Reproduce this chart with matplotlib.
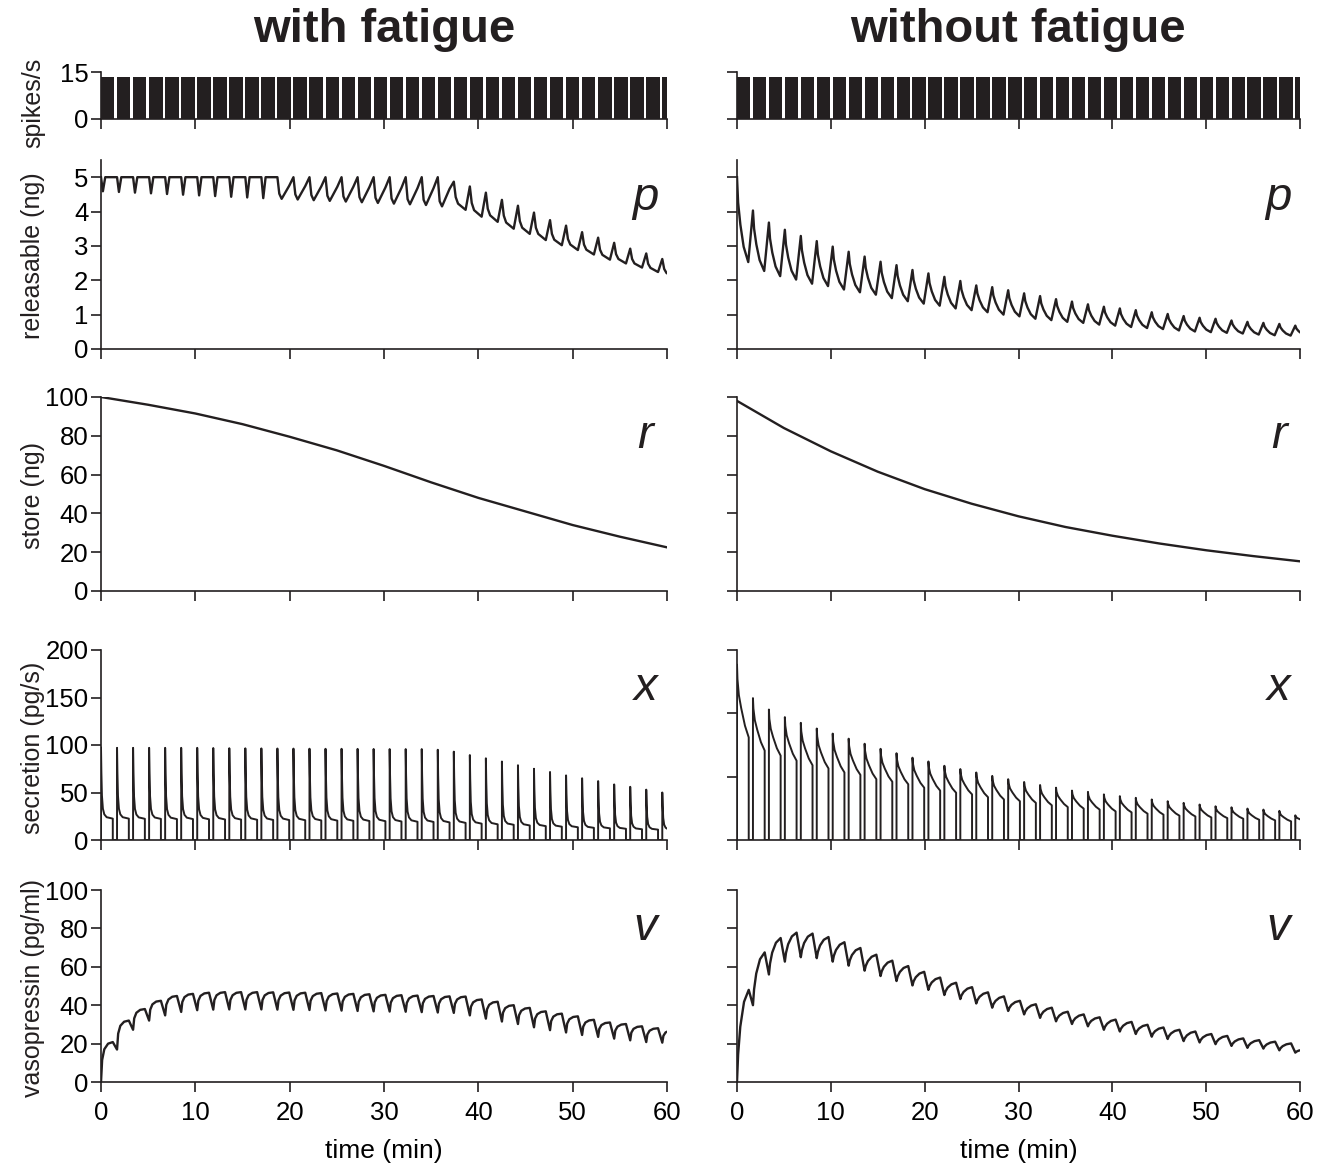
import numpy as np
import matplotlib.pyplot as plt

plt.rcParams['font.family'] = ['Liberation Sans', 'DejaVu Sans']

# ---- Data ----
n_bursts = 36
burst_period = 1.7      # min
burst_on = 1.25         # active part of a burst (curves)
bar_on = 1.42           # width of the spike-rate blocks
burst_start = np.arange(n_bursts) * burst_period

spike_rate_left = [13.4] * n_bursts
spike_rate_right = [13.4] * n_bursts

# releasable pool p, with fatigue: value at burst start, +0.2 min, +0.45 min, burst end
p_left_peak = [5.0, 5.0, 5.0, 5.0, 5.0, 5.0, 5.0, 5.0, 5.0, 5.0, 5.0, 5.0,
               5.0, 5.0, 5.0, 5.0, 5.0, 5.0, 5.0, 5.0, 5.0, 5.0, 4.87, 4.73,
               4.55, 4.34, 4.17, 3.97, 3.75, 3.59, 3.40, 3.24, 3.09, 2.92, 2.78, 2.62]
p_left_dip = [4.59, 4.57, 4.55, 4.53, 4.51, 4.49, 4.47, 4.45, 4.43, 4.41, 4.39, 4.52,
              4.50, 4.48, 4.46, 4.44, 4.42, 4.40, 4.38, 4.36, 4.34, 4.30, 4.42, 4.25,
              4.08, 3.88, 3.72, 3.53, 3.35, 3.20, 3.04, 2.89, 2.76, 2.62, 2.48, 2.33]
p_left_mid = [5.0, 5.0, 5.0, 5.0, 5.0, 5.0, 5.0, 5.0, 5.0, 5.0, 5.0, 4.37,
              4.35, 4.33, 4.31, 4.29, 4.27, 4.25, 4.23, 4.21, 4.19, 4.15, 4.23, 4.04,
              3.89, 3.68, 3.53, 3.35, 3.18, 3.04, 2.89, 2.74, 2.62, 2.49, 2.36, 2.21]
p_left_end = [5.0, 5.0, 5.0, 5.0, 5.0, 5.0, 5.0, 5.0, 5.0, 5.0, 5.0, 4.75,
              4.74, 4.73, 4.72, 4.72, 4.71, 4.70, 4.69, 4.68, 4.68, 4.66, 4.05, 3.85,
              3.70, 3.50, 3.35, 3.17, 3.02, 2.88, 2.75, 2.60, 2.49, 2.37, 2.24, 2.10]

# releasable pool p, without fatigue: burst start / burst end
p_right_peak = [5.0, 4.03, 3.68, 3.47, 3.29, 3.14, 2.98, 2.83, 2.69, 2.54,
                2.44, 2.30, 2.20, 2.10, 1.98, 1.85, 1.80, 1.71, 1.62, 1.54,
                1.45, 1.38, 1.30, 1.23, 1.18, 1.13, 1.07, 1.02, 0.96, 0.91,
                0.88, 0.83, 0.79, 0.76, 0.73, 0.68]
p_right_end = [2.53, 2.27, 2.12, 2.02, 1.90, 1.83, 1.73, 1.65, 1.58, 1.48,
               1.39, 1.32, 1.26, 1.18, 1.13, 1.07, 1.00, 0.95, 0.88, 0.84,
               0.79, 0.76, 0.71, 0.68, 0.64, 0.61, 0.58, 0.54, 0.51, 0.49,
               0.47, 0.45, 0.42, 0.40, 0.39, 0.39]

# store r
r_time = [0, 5, 10, 15, 20, 25, 30, 35, 40, 45, 50, 55, 60]
r_left = [100, 96, 91.5, 86, 79.5, 72.5, 64.5, 56, 48, 41, 34, 28, 22.5]
r_right = [98, 84, 72, 61.5, 52.5, 45, 38.5, 33, 28.5, 24.5, 21, 18, 15.3]

# secretion x: peak at burst start / level at burst end
x_left_peak = [97.5, 97, 97, 97, 97, 97, 97, 96.8, 96.6, 96.5,
               96.4, 96.3, 96.2, 96.1, 96, 96, 95.9, 95.8, 95.7, 95.7,
               95.7, 95, 93, 89.4, 86, 82.6, 78.7, 75, 71.6, 68,
               65, 62, 58.5, 56, 53, 50]
x_left_end = [22.5, 22.5, 22.3, 22.2, 22, 22, 21.8, 21.6, 21.5, 21.3,
              21.1, 21, 20.8, 20.6, 20.4, 20.2, 20, 19.8, 19.5, 19.2,
              19, 18.5, 18, 17.2, 16.5, 16, 15.3, 14.6, 14, 13.4,
              12.8, 12.3, 11.8, 11.3, 10.9, 10.6]
x_right_peak = [138.5, 112, 103, 97, 92.5, 88, 84, 80, 76, 72,
                68.5, 65, 62, 58.6, 56, 53.3, 50.6, 48, 45.8, 43.4,
                41.3, 39, 38, 36, 34.6, 33.3, 32, 30.6, 29.3, 28,
                26.6, 25.8, 24.8, 24, 23, 19.5]
x_right_end = [81, 70.6, 66.6, 62.6, 59, 56.5, 53.3, 51.4, 48, 46,
               44, 41.3, 39, 37.3, 36, 33.8, 32, 30.6, 29.3, 27.4,
               26, 24.8, 24, 22.6, 21.8, 20.8, 20, 19.2, 18.6, 17.8,
               17.3, 16.8, 16, 15.5, 14.7, 14.5]

# vasopressin v: minimum at burst start / maximum at burst end
v_left_low = [0, 16.9, 27.2, 32, 34.7, 36.5, 37.4, 37.7, 37.8, 37.8,
              37.8, 37.7, 37.6, 37.5, 37.3, 37.2, 37.0, 36.8, 36.7, 36.6,
              36.4, 36.2, 36.0, 34.7, 33.0, 31.5, 30.2, 28.5, 27.0, 25.8,
              24.5, 23.5, 22.6, 21.7, 20.8, 20.5]
v_left_high = [20.8, 32, 38, 42.3, 44.8, 45.9, 46.5, 46.8, 46.8, 46.8,
               46.7, 46.6, 46.5, 46.3, 46.1, 45.9, 45.7, 45.4, 45.2, 45.0,
               44.8, 44.6, 44.5, 43.0, 41.8, 40.0, 38.6, 36.8, 35.6, 34.2,
               32.4, 31.0, 30.2, 29.0, 28.0, 27.0]
v_right_low = [0, 40, 56, 62.7, 65, 64.5, 62.7, 60.6, 58, 55.2,
               52.6, 50.3, 48, 45.3, 43.2, 40.9, 38.7, 37, 35.2, 33.4,
               31.6, 30.2, 29, 27.2, 26.3, 25, 23.6, 22.4, 21.3, 20.6,
               19.7, 18.8, 17.8, 17.4, 16.5, 15.3]
v_right_high = [48, 67.5, 75, 77.8, 77.3, 75.5, 72.8, 69.8, 66.3, 63.2,
                60.4, 57.4, 54.4, 51.7, 49.4, 46.7, 44.6, 42.3, 40.5, 38.7,
                36.6, 35.2, 33.7, 32.5, 31.3, 29.8, 28.4, 27.2, 26.3, 25,
                24, 22.7, 21.8, 21, 20.1, 17]

# shape of one burst, as fraction of the way from the start value to the end value
x_left_shape = ([0, 0.04, 0.1, 0.2, 0.35, 0.6, 1.25], [0, 0.35, 0.68, 0.86, 0.94, 0.98, 1.0])
x_right_shape = ([0, 0.05, 0.2, 0.45, 0.85, 1.25], [0, 0.2, 0.42, 0.6, 0.84, 1.0])
p_right_shape = ([0, 0.12, 0.36, 0.71, 1.2], [0, 0.3, 0.56, 0.82, 1.0])
v_left_shape = ([0, 0.12, 0.35, 0.75, 1.25], [0, 0.55, 0.82, 0.96, 1.0])
v_right_shape = ([0, 0.12, 0.35, 0.75, 1.25], [0, 0.3, 0.6, 0.87, 1.0])
p_left_dt = [0, 0.2, 0.45, 1.25]


def trace(dts, vals):
    t, y = [], []
    for k, t0 in enumerate(burst_start):
        for dt, v in zip(dts, vals):
            t.append(t0 + dt)
            y.append(v[k])
    return t, y


def shaped(start, end, shape):
    dts, fr = shape
    a, b = np.asarray(start, float), np.asarray(end, float)
    return dts, [a + f * (b - a) for f in fr]


def secretion(peak, end, shape):
    dts, vals = shaped(peak, end, shape)
    zero = np.zeros(n_bursts)
    return [0] + dts + [dts[-1]], [zero] + vals + [zero]


# ---- Figure ----
W, H = 1326, 1163
fig = plt.figure(figsize=(W / 100, H / 100), dpi=100)

col_px = [(101, 667), (737, 1300)]
row_px = [(72, 119), (160, 349), (397, 591), (650, 840), (890, 1082)]
ink = '#231f20'
lw = 1.7
fs_tick = 18.5
fs_label = 18
fs_xlabel = 19
fs_letter = 34


def add_ax(col, row):
    x0, x1 = col_px[col]
    y0, y1 = row_px[row]
    ax = fig.add_axes([x0 / W, 1 - y1 / H, (x1 - x0) / W, (y1 - y0) / H])
    for s in ['top', 'right']:
        ax.spines[s].set_visible(False)
    for s in ['left', 'bottom']:
        ax.spines[s].set_linewidth(1.2)
        ax.spines[s].set_color(ink)
    ax.set_xlim(0, 60)
    ax.set_xticks(range(0, 61, 10))
    ax.tick_params(direction='out', length=7, width=1.2, color=ink,
                   labelsize=fs_tick, pad=2,
                   labelleft=(col == 0), labelbottom=(row == 4))
    ax.tick_params(axis='x', pad=7)
    return ax


axes = [[add_ax(c, r) for r in range(5)] for c in range(2)]

# row 1: spike rate
for c, rate in enumerate([spike_rate_left, spike_rate_right]):
    ax = axes[c][0]
    ax.bar(burst_start, rate, width=bar_on, align='edge', color=ink, linewidth=0)
    ax.set_ylim(0, 15)
    ax.set_yticks([0, 15])

# row 2: releasable
t, y = trace(p_left_dt, [p_left_peak, p_left_dip, p_left_mid, p_left_end])
axes[0][1].plot(t, y, color=ink, lw=lw)
t, y = trace(*shaped(p_right_peak, p_right_end, p_right_shape))
axes[1][1].plot(t, y, color=ink, lw=lw)
for c in range(2):
    axes[c][1].set_ylim(0, 5.5)
    axes[c][1].set_yticks(range(0, 6))

# row 3: store
axes[0][2].plot(r_time, r_left, color=ink, lw=lw)
axes[1][2].plot(r_time, r_right, color=ink, lw=lw)
for c in range(2):
    axes[c][2].set_ylim(0, 100)
    axes[c][2].set_yticks(range(0, 101, 20))

# row 4: secretion
t, y = trace(*secretion(x_left_peak, x_left_end, x_left_shape))
axes[0][3].plot(t, y, color=ink, lw=1.4)
t, y = trace(*secretion(x_right_peak, x_right_end, x_right_shape))
axes[1][3].plot(t, y, color=ink, lw=1.4)
axes[0][3].set_ylim(0, 200)
axes[0][3].set_yticks(range(0, 201, 50))
axes[1][3].set_ylim(0, 150)
axes[1][3].set_yticks(range(0, 151, 50))

# row 5: vasopressin
t, y = trace(*shaped(v_left_low, v_left_high, v_left_shape))
axes[0][4].plot(t, y, color=ink, lw=lw)
t, y = trace(*shaped(v_right_low, v_right_high, v_right_shape))
axes[1][4].plot(t, y, color=ink, lw=lw)
for c in range(2):
    axes[c][4].set_ylim(0, 100)
    axes[c][4].set_yticks(range(0, 101, 20))
    axes[c][4].set_xlabel('time (min)', fontsize=fs_xlabel, labelpad=10)

# variable letters
for c in range(2):
    for r, letter in zip(range(1, 5), ['p', 'r', 'x', 'v']):
        axes[c][r].text(0.962, 0.80, letter, transform=axes[c][r].transAxes,
                        fontsize=fs_letter, style='italic', ha='center', va='center',
                        color=ink)

# y labels
ylabels = ['spikes/s', 'releasable (ng)', 'store (ng)', 'secretion (pg/s)',
           'vasopressin (pg/ml)']
ylabel_y = [103, 256, 495, 748, 988]
for lab, yp in zip(ylabels, ylabel_y):
    fig.text(33 / W, 1 - yp / H, lab, rotation=90, ha='center', va='center',
             fontsize=fs_label, color=ink)

# column titles
fig.text(384 / W, 1 - 30 / H, 'with fatigue', ha='center', va='center',
         fontsize=34, fontweight='bold', color=ink)
fig.text(1018 / W, 1 - 30 / H, 'without fatigue', ha='center', va='center',
         fontsize=34, fontweight='bold', color=ink)

fig.savefig('out.png', dpi=100)
